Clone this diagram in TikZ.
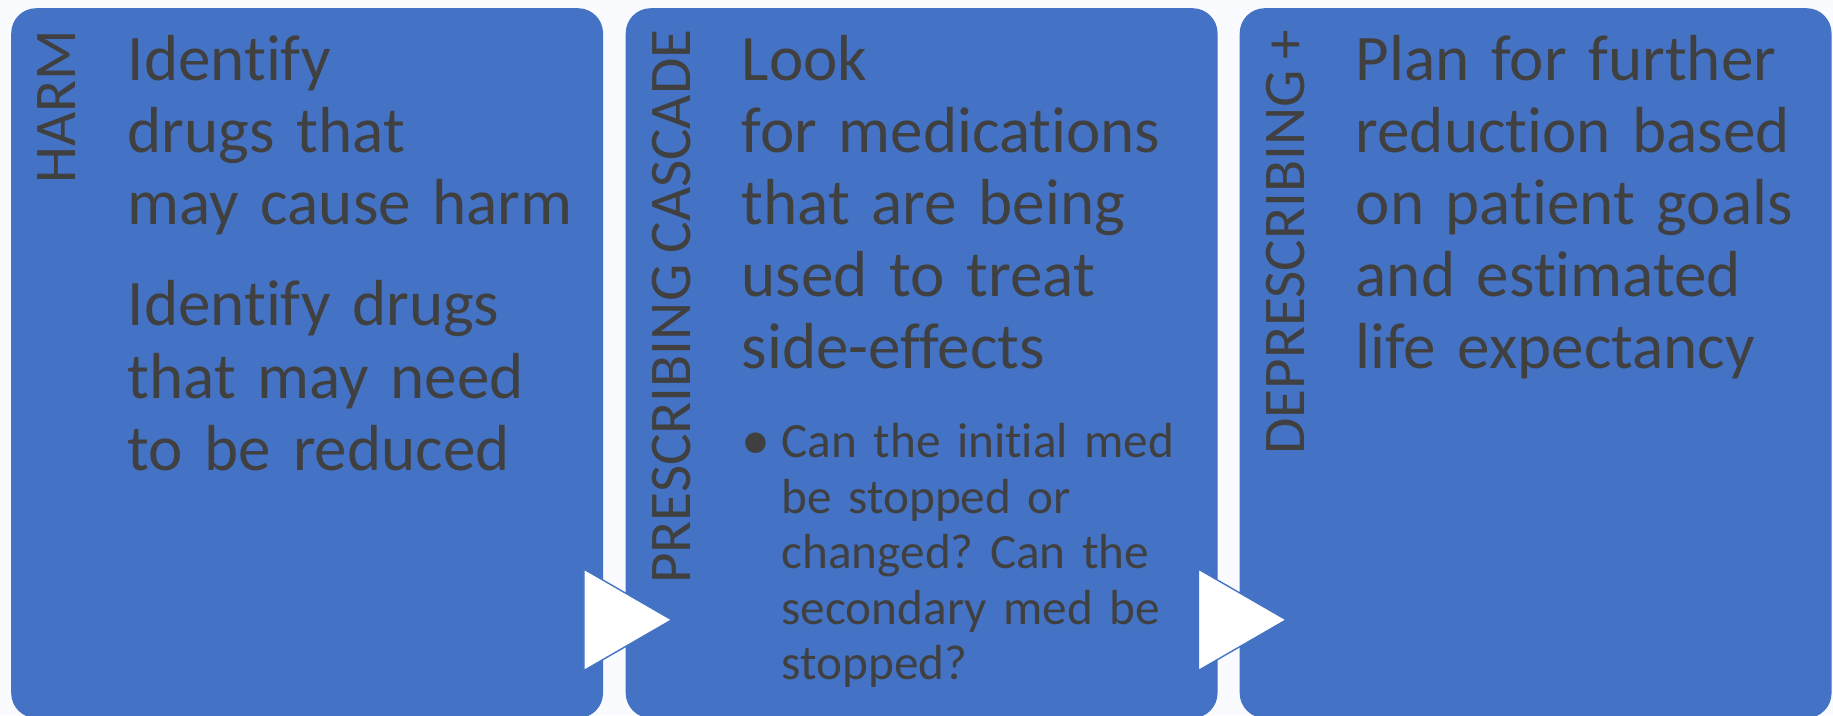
\documentclass[tikz,border=0pt]{standalone}
\usepackage{fontspec}
\setmainfont{Carlito}[Ligatures=NoCommon, WordSpace=0.85]
\usetikzlibrary{shapes.geometric,calc}

\definecolor{stageblue}{HTML}{4472C4}
\definecolor{inkgrey}{HTML}{404040}
\definecolor{paper}{HTML}{F9FBFE}

\tikzset{
  stage/.style={fill=stageblue, rounded corners=0.25cm, minimum width=5.915cm, minimum height=7.095cm, inner sep=0pt, anchor=north west},
  pointer/.style={regular polygon, regular polygon sides=3, shape border rotate=-90, fill=white, draw=stageblue, line width=0.4pt, minimum size=1.17cm, inner sep=0pt},
  tag/.style={rotate=90, anchor=base east, inner sep=0pt, text=inkgrey, font=\fontsize{16.8}{18}\selectfont},
  body/.style={anchor=base west, inner sep=0pt, text=inkgrey, align=left, text width=5.2cm, font=\fontsize{18.5}{20.5}\selectfont},
  bullettext/.style={anchor=base west, inner sep=0pt, text=inkgrey, align=left, text width=4.2cm, font=\fontsize{14}{15.8}\selectfont},
}

\begin{document}
\frenchspacing
\begin{tikzpicture}[x=0.01cm, y=-0.01cm]
\fill[paper] (0,0) rectangle (1833,715);
\useasboundingbox (0,0) rectangle (1833,715);
% the three stages
\node[stage] (harm) at (10.5,7.5) {};
\node[stage] (cascade) at (625,7.5) {};
\node[stage] (deprescribing) at (1239,7.5) {};
% white pointers between the stages
\node[pointer] (harmtocascade) at ($(harm.south east)+(9.5,-99)$) {};
\node[pointer] (cascadetodeprescribing) at ($(cascade.south east)+(9.5,-99)$) {};
% side labels
\node[tag] (harmlbl) at (75,29) {HARM};
\node[tag] (cascadelbl) at (690,29) {PRESCRIBING CASCADE};
\node[tag] (deprescribinglbl) at (1304,29) {DEPRESCRIBING +};
% texts
\node[body] (harmtxt) at (127,80.5) {Identify\\drugs that\\may cause harm\\[8.3pt]Identify drugs\\that may need\\to be reduced};
\node[body] (cascadetxt) at (741,80.5) {Look\\for medications\\that are being\\used to treat\\side-effects};
\node[bullettext] (cascadeitem) at (781,457.5) {\llap{\fontsize{16.5}{16.5}\selectfont\raisebox{-0.6pt}{•}\hspace{3.3pt}}Can the initial med\\be stopped or\\changed? Can the\\secondary med be\\stopped?};
\node[body] (deprescribingtxt) at (1355,80.5) {Plan for further\\reduction based\\on patient goals\\and estimated\\life expectancy};
\end{tikzpicture}
\end{document}
